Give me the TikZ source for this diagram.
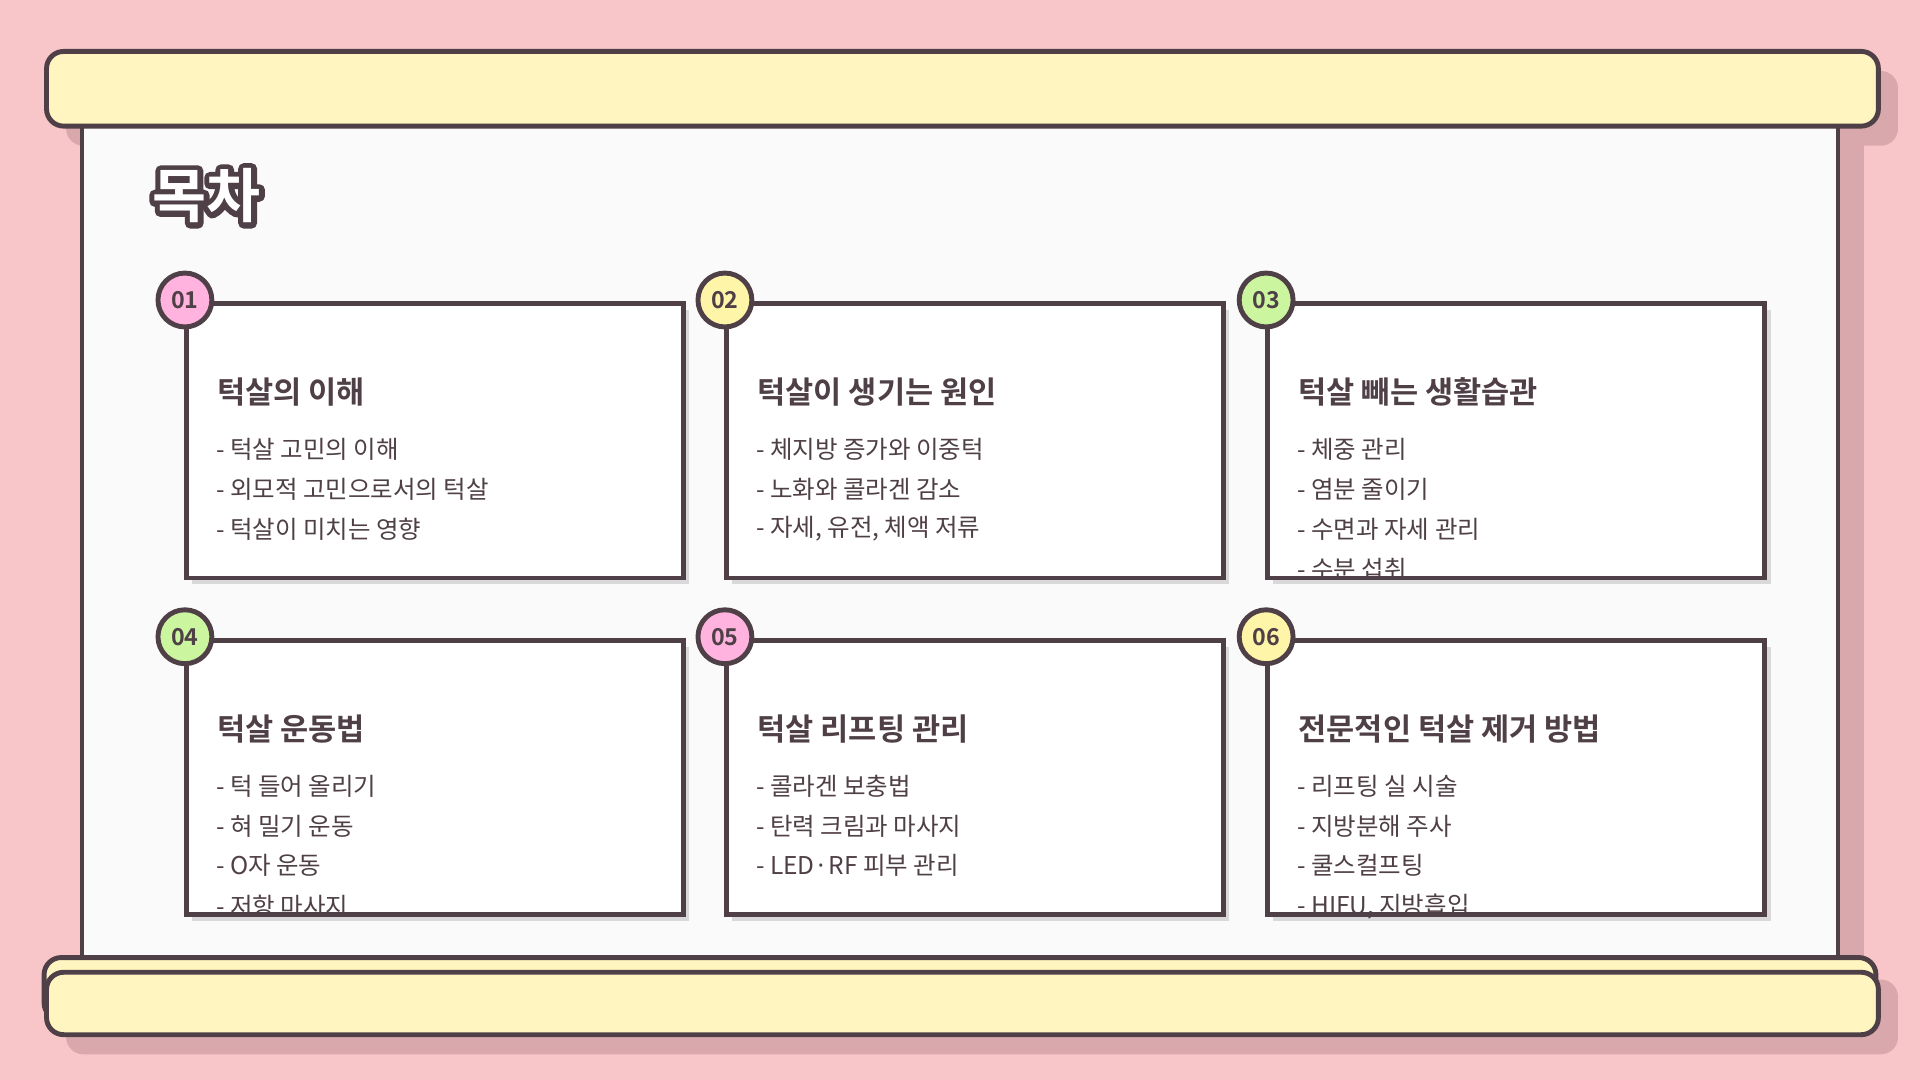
\documentclass[tikz,border=0pt]{standalone}
\usepackage{fontspec}
\setmainfont{Noto Sans CJK KR}[BoldFont={* Bold}]
\usetikzlibrary{calc}
\definecolor{bg}{HTML}{F8C6C8}
\definecolor{ink}{HTML}{4F3F46}
\definecolor{sh}{HTML}{D9A8AC}
\definecolor{bar}{HTML}{FFF5C0}
\definecolor{paper}{HTML}{FAFAFA}
\definecolor{cpink}{HTML}{FFB3DE}
\definecolor{cyel}{HTML}{FFF5A8}
\definecolor{cgreen}{HTML}{CCF5A0}
\tikzset{
  barbox/.style={draw=ink,line width=4pt,fill=bar,rounded corners=14pt},
  card/.style={draw=ink,line width=4pt},
  badge/.style={circle,draw=ink,line width=4pt,minimum size=44pt,inner sep=0pt,font=\bfseries\fontsize{19}{19}\selectfont,text=ink},
  head/.style={anchor=west,text=ink,font=\bfseries\fontsize{25}{25}\selectfont},
  item/.style={anchor=west,text=ink,font=\fontsize{20}{20}\selectfont},
}
\begin{document}
\begin{tikzpicture}[x=1pt,y=-1pt]
\useasboundingbox (0,0) rectangle (1568,882);
\fill[bg] (0,0) rectangle (1568,882);
\fill[sh] (1501,101) rectangle (1522,800);
\fill[sh,rounded corners=14pt] (54,58) rectangle (1550,119);
\fill[paper,draw=ink,line width=4pt] (67,90) rectangle (1501,790);
\node[barbox,minimum width=1496pt,minimum height=61pt,anchor=north west] (topbar) at (36,40) {};
\fill[sh,rounded corners=14pt] (54,800) rectangle (1550,861);
\draw[barbox] (36,782) rectangle (1532,833);
\node[barbox,minimum width=1496pt,minimum height=51pt,anchor=north west] (botbar) at (36,792) {};
% title: outlined white text
\node[anchor=west,text=white,font=\bfseries\fontsize{48}{48}\selectfont] (title) at (121,160)
  {\special{pdf:literal 0.31 0.247 0.275 RG 9 w 1 j 2 Tr}목차\special{pdf:literal 0 Tr}};
\node[anchor=west,text=white,font=\bfseries\fontsize{48}{48}\selectfont] at (121,160) {목차};
\foreach \n/\x/\y/\c/\h/\a/\b/\cc/\d in {
  01/152/248/cpink/턱살의 이해/턱살 고민의 이해/외모적 고민으로서의 턱살/턱살이 미치는 영향/,
  02/593/248/cyel/턱살이 생기는 원인/체지방 증가와 이중턱/노화와 콜라겐 감소/{자세, 유전, 체액 저류}/,
  03/1035/248/cgreen/턱살 빼는 생활습관/체중 관리/염분 줄이기/수면과 자세 관리/수분 섭취,
  04/152/523/cgreen/턱살 운동법/턱 들어 올리기/혀 밀기 운동/O자 운동/저항 마사지,
  05/593/523/cpink/턱살 리프팅 관리/콜라겐 보충법/탄력 크림과 마사지/LED·RF 피부 관리/,
  06/1035/523/cyel/전문적인 턱살 제거 방법/리프팅 실 시술/지방분해 주사/쿨스컬프팅/{HIFU, 지방흡입}}{
  \fill[black!15] (\x+5,\y+5) rectangle (\x+411,\y+229);
  \fill[white] (\x,\y) rectangle (\x+406,\y+224);
  \node[head] (h\n) at (\x+22,\y+72) {\h};
  \node[item] (a\n) at (\x+21,\y+119) {- \a};
  \node[item] (b\n) at (\x+21,\y+152) {- \b};
  \node[item] (c\n) at (\x+21,\y+184) {- \cc};
  \if\relax\detokenize\expandafter{\d}\relax\else
    \node[item] (d\n) at (\x+21,\y+217) {- \d};
  \fi
  \draw[card] (\x,\y) rectangle (\x+406,\y+224);
  \node[badge,fill=\c] (n\n) at (\x-1,\y-3) {\n};
}
\end{tikzpicture}
\end{document}
